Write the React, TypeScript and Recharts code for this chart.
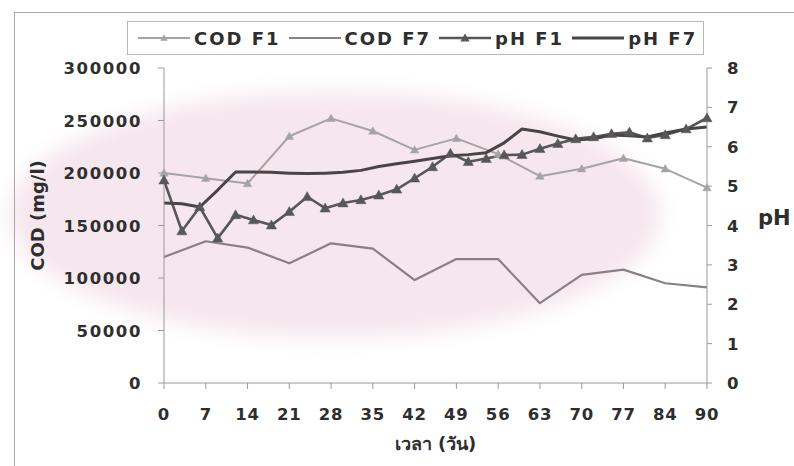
import React from 'react';
import { LineChart, Line, XAxis, YAxis, Legend } from 'recharts';

// Sampling days (category axis) and COD readings
const dayTicks = [0, 7, 14, 21, 28, 35, 42, 49, 56, 63, 70, 77, 84, 90];
const codDays = [0, 7, 14, 21, 28, 35, 42, 49, 56, 63, 70, 77, 84, 90];
const codF1 = [200000, 195000, 190000, 235000, 252000, 240000, 222000, 233000, 218000, 197000, 204000, 214000, 204000, 186000];
const codF7 = [120000, 135000, 129000, 114000, 133000, 128000, 98000, 118000, 118000, 76000, 103000, 108000, 95000, 91000];

// pH readings, every 3 days
const phDays = [0, 3, 6, 9, 12, 15, 18, 21, 24, 27, 30, 33, 36, 39, 42, 45, 48, 51, 54, 57, 60, 63, 66, 69, 72, 75, 78, 81, 84, 87, 90];
const phF1 = [5.15, 3.86, 4.47, 3.68, 4.27, 4.14, 4.01, 4.35, 4.73, 4.44, 4.57, 4.65, 4.77, 4.92, 5.2, 5.49, 5.83, 5.62, 5.7, 5.79, 5.8, 5.95, 6.08, 6.2, 6.25, 6.33, 6.37, 6.22, 6.3, 6.45, 6.73];
const phF7 = [4.57, 4.55, 4.47, 4.9, 5.36, 5.36, 5.35, 5.33, 5.32, 5.33, 5.35, 5.4, 5.5, 5.57, 5.63, 5.7, 5.77, 5.8, 5.85, 6.1, 6.45, 6.38, 6.27, 6.17, 6.2, 6.3, 6.28, 6.25, 6.35, 6.45, 6.5];

const codTicks = [0, 50000, 100000, 150000, 200000, 250000, 300000];
const phTicks = [0, 1, 2, 3, 4, 5, 6, 7, 8];

const FONT = "'DejaVu Sans', 'Noto Sans', sans-serif";
const TEXT = '#2e2e2e';
const AXIS = '#9a9a9a';

// Day -> position on the evenly spaced category axis (last step spans 84 -> 90)
const dayPos = (d: number) => {
  for (let k = 0; k < dayTicks.length - 1; k++) {
    const a = dayTicks[k];
    const b = dayTicks[k + 1];
    if (d >= a && d <= b) return k + (d - a) / (b - a);
  }
  return dayTicks.length - 1;
};

const codRows = codDays.map((d, i) => ({ pos: dayPos(d), f1: codF1[i], f7: codF7[i] }));
const phRows = phDays.map((d, i) => ({ pos: dayPos(d), f1: phF1[i], f7: phF7[i] }));

type SeriesDef = {
  name: string;
  rows: any[];
  key: string;
  axis: string;
  color: string;
  width: number;
  marker: number;
};

const series: SeriesDef[] = [
  { name: 'COD F1', rows: codRows, key: 'f1', axis: 'cod', color: '#a4a4a4', width: 2, marker: 7 },
  { name: 'COD F7', rows: codRows, key: 'f7', axis: 'cod', color: '#8b7f87', width: 2.2, marker: 0 },
  { name: 'pH F1', rows: phRows, key: 'f1', axis: 'ph', color: '#575757', width: 2.6, marker: 8.5 },
  { name: 'pH F7', rows: phRows, key: 'f7', axis: 'ph', color: '#4a4545', width: 3, marker: 0 },
];

const triPath = (cx: number, cy: number, s: number) =>
  `M${cx},${cy - s * 0.6} L${cx + s * 0.6},${cy + s * 0.45} L${cx - s * 0.6},${cy + s * 0.45} Z`;

const triangleDot = (size: number, color: string) => (props: any) => {
  const { cx, cy, index } = props;
  if (cx == null || cy == null) return <g key={`n${index}`} />;
  return <path key={`t${index}`} d={triPath(cx, cy, size)} fill={color} stroke={color} strokeWidth={0.5} />;
};

const LeftTick = (props: any) => {
  const { x, y, payload } = props;
  return (
    <text x={x} y={y} dy={6} textAnchor="end" fontFamily={FONT} fontSize={16.5} fontWeight="bold" fill={TEXT} style={{ letterSpacing: '1.6px' }}>
      {payload.value}
    </text>
  );
};

const RightTick = (props: any) => {
  const { x, y, payload } = props;
  return (
    <text x={x} y={y} dy={6} textAnchor="start" fontFamily={FONT} fontSize={16.5} fontWeight="bold" fill={TEXT}>
      {payload.value}
    </text>
  );
};

const BottomTick = (props: any) => {
  const { x, y, payload } = props;
  return (
    <text x={x} y={y} dy={12} textAnchor="middle" fontFamily={FONT} fontSize={16.5} fontWeight="bold" fill={TEXT} style={{ letterSpacing: '0.8px' }}>
      {dayTicks[Math.round(payload.value)]}
    </text>
  );
};

const LeftTitle = (props: any) => {
  const vb = props.viewBox || { x: 0, y: 68, width: 164, height: 315 };
  const cx = vb.x + 37;
  const cy = vb.y + vb.height / 2 - 10;
  return (
    <text x={cx} y={cy} transform={`rotate(-90 ${cx} ${cy})`} textAnchor="middle" dominantBaseline="central" fontFamily={FONT} fontSize={18} fontWeight="bold" fill={TEXT}>
      COD (mg/l)
    </text>
  );
};

const RightTitle = (props: any) => {
  const vb = props.viewBox || { x: 707, y: 68, width: 87, height: 315 };
  return (
    <text x={vb.x + 51} y={vb.y + vb.height / 2 - 8} dominantBaseline="central" fontFamily={FONT} fontSize={21} fontWeight="bold" fill={TEXT}>
      pH
    </text>
  );
};

const BottomTitle = (props: any) => {
  const vb = props.viewBox || { x: 164, y: 383, width: 543, height: 83 };
  return (
    <text x={vb.x + vb.width / 2} y={vb.y + 67} textAnchor="middle" fontFamily={FONT} fontSize={18} fontWeight="bold" fill={TEXT}>
      เวลา (วัน)
    </text>
  );
};

const LegendBox = () => (
  <div
    style={{
      boxSizing: 'border-box',
      width: '100%',
      height: '100%',
      border: '1px solid #b8b8b8',
      background: 'rgba(255,255,255,0.6)',
      display: 'flex',
      alignItems: 'center',
      paddingLeft: 10,
      fontFamily: FONT,
      fontSize: 18,
      fontWeight: 'bold',
      color: TEXT,
      letterSpacing: '2px',
      whiteSpace: 'nowrap',
    }}
  >
    {series.map((s, i) => (
      <div key={s.name} style={{ display: 'flex', alignItems: 'center', marginRight: i < series.length - 1 ? 8 : 0 }}>
        <svg width={52} height={16} style={{ display: 'block' }}>
          <line x1={0} y1={8} x2={52} y2={8} stroke={s.color} strokeWidth={s.width} />
          {s.marker > 0 && <path d={triPath(26, 8, s.marker * 0.9)} fill={s.color} />}
        </svg>
        <span style={{ marginLeft: 4 }}>{s.name}</span>
      </div>
    ))}
  </div>
);

export default function App() {
  return (
    <div style={{ position: 'fixed', left: 0, top: 0, width: 794, height: 466, overflow: 'hidden', background: '#ffffff' }}>
      {/* soft tinted backdrop */}
      <div
        style={{
          position: 'absolute',
          left: 10,
          top: 92,
          width: 650,
          height: 245,
          borderRadius: '50%',
          background: '#f6e6ed',
          filter: 'blur(10px)',
        }}
      />
      {/* outer frame */}
      <div
        style={{
          position: 'absolute',
          left: 14,
          top: 12,
          width: 820,
          height: 520,
          border: '1.5px solid #a8a8a8',
        }}
      />
      <div style={{ position: 'absolute', left: 0, top: 0 }}>
        <LineChart width={794} height={466} margin={{ top: 68, right: 0, bottom: 0, left: 0 }}>
          <XAxis
            dataKey="pos"
            type="number"
            domain={[0, dayTicks.length - 1]}
            ticks={dayTicks.map((_, i) => i)}
            interval={0}
            allowDecimals
            stroke={AXIS}
            tickSize={6}
            tickMargin={19}
            tick={<BottomTick />}
            height={83}
            label={<BottomTitle />}
          />
          <YAxis
            yAxisId="cod"
            domain={[0, 300000]}
            ticks={codTicks}
            interval={0}
            width={164}
            stroke={AXIS}
            tickSize={6}
            tickMargin={16}
            tick={<LeftTick />}
            label={<LeftTitle />}
          />
          <YAxis
            yAxisId="ph"
            orientation="right"
            domain={[0, 8]}
            ticks={phTicks}
            interval={0}
            width={87}
            stroke={AXIS}
            tickSize={5}
            tickMargin={15}
            tick={<RightTick />}
            label={<RightTitle />}
          />
          <Legend
            verticalAlign="middle"
            align="center"
            wrapperStyle={{ left: 127, top: 21, width: 577, height: 34 }}
            content={() => <LegendBox />}
          />
          {series.map((s) => (
            <Line
              key={s.name}
              name={s.name}
              data={s.rows}
              dataKey={s.key}
              yAxisId={s.axis}
              type="linear"
              stroke={s.color}
              strokeWidth={s.width}
              strokeLinejoin="round"
              dot={s.marker > 0 ? triangleDot(s.marker, s.color) : false}
              activeDot={false}
              isAnimationActive={false}
            />
          ))}
        </LineChart>
      </div>
    </div>
  );
}
